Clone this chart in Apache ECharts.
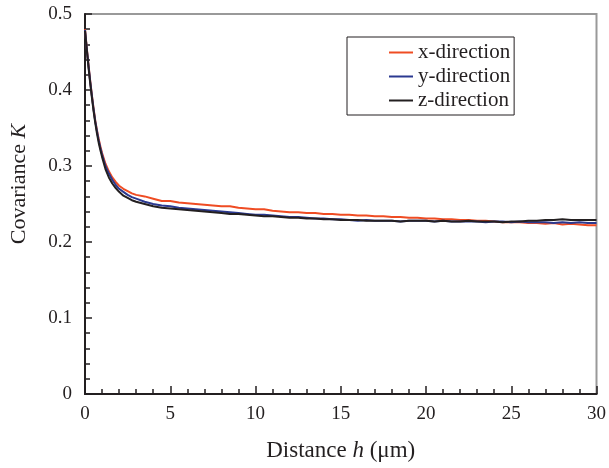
<!DOCTYPE html>
<html>
<head>
<meta charset="utf-8">
<script src="https://cdn.jsdelivr.net/npm/echarts@6/dist/echarts.min.js"></script>
<style>html,body{margin:0;padding:0;background:#fff}#c{width:609px;height:468px}</style>
</head>
<body>
<div id="c"></div>
<script>
const distance = [0,0.1,0.2,0.3,0.4,0.5,0.6,0.7,0.8,0.9,1.0,1.2,1.4,1.6,1.8,2.0,2.25,2.5,2.75,3.0,
  3.5,4,4.5,5,5.5,6,6.5,7,7.5,8,8.5,9,9.5,10,10.5,11,11.5,12,12.5,13,13.5,14,14.5,15,15.5,16,16.5,17,17.5,18,18.5,19,19.5,20,
  20.5,21,21.5,22,22.5,23,23.5,24,24.5,25,25.5,26,26.5,27,27.5,28,28.5,29,29.5,30];
const xDirection = [0.480,0.456,0.434,0.413,0.394,0.376,0.360,0.347,0.336,0.326,0.317,0.303,0.293,0.285,0.279,0.274,0.270,0.267,0.264,0.262,
  0.260,0.257,0.254,0.254,0.252,0.251,0.250,0.249,0.248,0.247,0.247,0.245,0.244,0.243,0.243,0.241,0.240,0.239,0.239,0.238,0.238,0.237,0.237,0.236,0.236,0.235,0.235,0.234,0.234,0.233,0.233,0.232,0.232,0.231,
  0.231,0.230,0.230,0.229,0.229,0.228,0.228,0.227,0.226,0.226,0.226,0.225,0.225,0.224,0.225,0.223,0.224,0.223,0.222,0.222];
const yDirection = [0.479,0.455,0.433,0.412,0.393,0.375,0.359,0.346,0.334,0.324,0.315,0.300,0.290,0.282,0.275,0.270,0.266,0.262,0.259,0.257,
  0.253,0.250,0.248,0.247,0.245,0.244,0.243,0.242,0.241,0.240,0.239,0.238,0.237,0.236,0.236,0.235,0.234,0.233,0.233,0.232,0.231,0.231,0.230,0.230,0.229,0.228,0.229,0.228,0.228,0.228,0.227,0.228,0.228,0.228,
  0.227,0.228,0.227,0.227,0.227,0.227,0.226,0.227,0.227,0.226,0.227,0.226,0.226,0.226,0.225,0.226,0.225,0.226,0.225,0.225];
const zDirection = [0.478,0.454,0.431,0.410,0.391,0.373,0.357,0.343,0.331,0.321,0.312,0.296,0.285,0.277,0.271,0.266,0.261,0.258,0.255,0.253,
  0.250,0.247,0.245,0.244,0.243,0.242,0.241,0.240,0.239,0.238,0.237,0.237,0.236,0.235,0.234,0.234,0.233,0.232,0.232,0.231,0.231,0.230,0.230,0.229,0.229,0.229,0.228,0.228,0.228,0.228,0.227,0.228,0.228,0.228,
  0.227,0.228,0.227,0.227,0.228,0.227,0.227,0.227,0.226,0.227,0.227,0.228,0.228,0.229,0.229,0.230,0.229,0.229,0.229,0.229];
const seriesNames = ['x-direction','y-direction','z-direction'];
const seriesColors = ['#EF4C23','#2B3990','#231F20'];
const yTicks = [0,0.1,0.2,0.3,0.4,0.5];
const xTicks = [0,5,10,15,20,25,30];

const font = 'Liberation Serif, Times New Roman, serif';
const chart = echarts.init(document.getElementById('c'), null, {renderer:'canvas'});
const toPairs = arr => distance.map((h,i)=>[h,arr[i]]);
const datasets = [xDirection,yDirection,zDirection];

chart.setOption({
  animation:false,
  backgroundColor:'#fff',
  grid:{left:85,right:8,top:14,bottom:74,show:true,borderColor:'#999',borderWidth:2},
  legend:{
    orient:'vertical',left:347,top:37,
    padding:[5,4,4,42],itemGap:3,
    borderColor:'#231F20',borderWidth:1,
    itemWidth:24,itemHeight:2,icon:'rect',
    textStyle:{fontFamily:font,fontSize:21,color:'#231F20',lineHeight:21},
    data:seriesNames
  },
  xAxis:{
    type:'value',min:xTicks[0],max:xTicks[xTicks.length-1],interval:5,
    name:'{n|Distance }{i|h}{n| (\u03bcm)}',nameLocation:'middle',nameGap:45,
    nameTextStyle:{rich:{n:{fontFamily:font,fontSize:23,color:'#231F20'},i:{fontFamily:font,fontSize:23,fontStyle:'italic',color:'#231F20'}}},
    axisLine:{onZero:false,lineStyle:{color:'#231F20',width:2}},
    axisTick:{inside:true,length:8,lineStyle:{color:'#231F20',width:1.5}},
    minorTick:{show:true,splitNumber:5,length:5,lineStyle:{color:'#231F20',width:1.5}},
    axisLabel:{fontFamily:font,fontSize:19,color:'#231F20',margin:11},
    splitLine:{show:false}
  },
  yAxis:{
    type:'value',min:yTicks[0],max:yTicks[yTicks.length-1],interval:0.1,
    name:'{n|Covariance }{i|K}',nameLocation:'middle',nameGap:55,
    nameTextStyle:{padding:[0,0,0,40],rich:{n:{fontFamily:font,fontSize:22,color:'#231F20'},i:{fontFamily:font,fontSize:22,fontStyle:'italic',color:'#231F20'}}},
    axisLine:{show:true,lineStyle:{color:'#231F20',width:2}},
    axisTick:{inside:true,length:7,lineStyle:{color:'#231F20',width:1.5}},
    minorTick:{show:true,splitNumber:5,length:5,lineStyle:{color:'#231F20',width:1.5}},
    axisLabel:{fontFamily:font,fontSize:19,color:'#231F20',margin:13,formatter:v=>String(Math.round(v*10)/10)},
    splitLine:{show:false}
  },
  series:datasets.map((d,i)=>({
    name:seriesNames[i],type:'line',data:toPairs(d),showSymbol:false,symbol:'none',
    color:seriesColors[i],lineStyle:{color:seriesColors[i],width:2}
  }))
});
</script>
</body>
</html>
